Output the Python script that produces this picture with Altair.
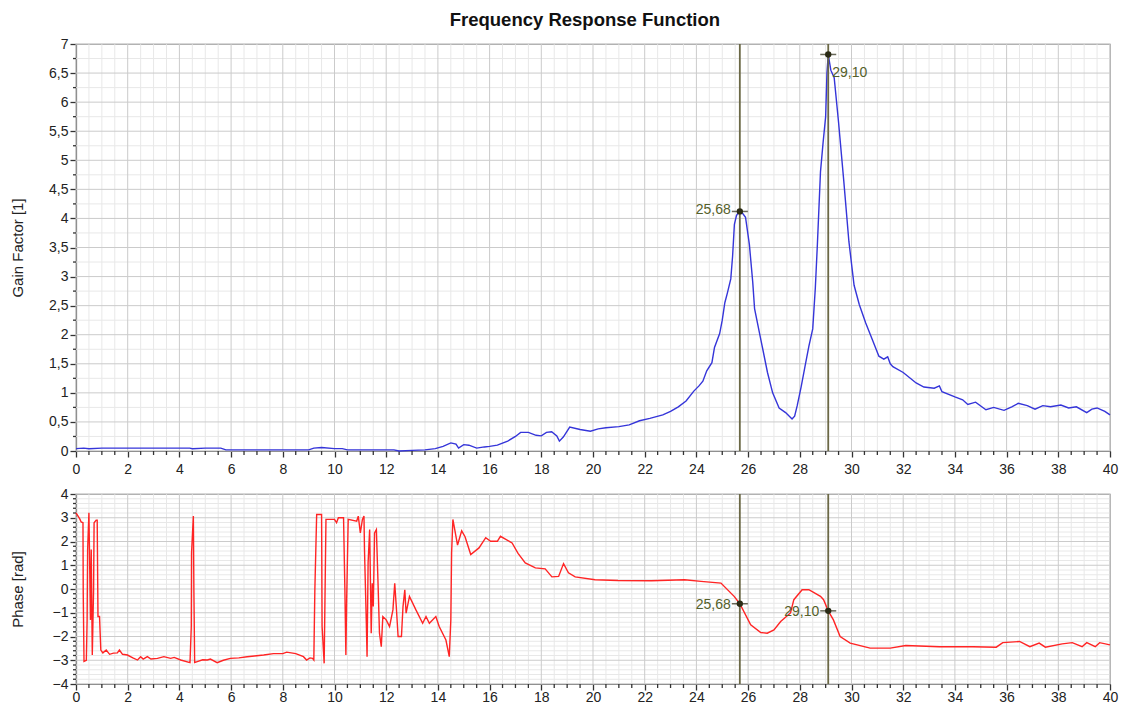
import altair as alt
import pandas as pd

# ---------------- data ----------------
gain_x = [0.0, 0.3, 0.5, 1.0, 2.0, 3.0, 4.0, 4.4, 4.5, 5.0, 5.6, 5.8, 7.0, 8.0, 9.0, 9.2, 9.5, 10.0, 10.3,
          10.5, 11.5, 12.3, 12.5, 13.0, 13.5, 13.9, 14.2, 14.5, 14.7, 14.8, 15.0, 15.2, 15.5, 15.8, 16.0,
          16.3, 16.7, 17.0, 17.2, 17.5, 17.8, 18.0, 18.2, 18.4, 18.6, 18.7, 18.85, 19.1, 19.5, 19.9, 20.2,
          20.5, 21.0, 21.4, 21.8, 22.2, 22.7, 23.0, 23.3, 23.6, 23.9, 24.1, 24.25, 24.4, 24.6, 24.7, 24.9,
          25.0, 25.1, 25.2, 25.33, 25.4, 25.47, 25.55, 25.62, 25.68, 25.8, 25.9, 26.05, 26.18, 26.25, 26.5,
          26.75, 26.95, 27.2, 27.45, 27.7, 27.8, 27.9, 28.05, 28.2, 28.35, 28.5, 28.6, 28.68, 28.8, 28.9,
          29.0, 29.05, 29.1, 29.2, 29.33, 29.5, 29.7, 29.9, 30.1, 30.3, 30.55, 30.8, 31.06, 31.25, 31.4,
          31.5, 31.6, 32.0, 32.5, 32.8, 33.2, 33.4, 33.5, 34.0, 34.3, 34.5, 34.8, 35.2, 35.5, 35.9, 36.2,
          36.45, 36.8, 37.1, 37.4, 37.7, 38.1, 38.4, 38.7, 39.1, 39.3, 39.5, 39.8, 40.0]
gain_y = [0.04, 0.05, 0.04, 0.05, 0.05, 0.05, 0.05, 0.05, 0.04, 0.05, 0.05, 0.02, 0.02, 0.02, 0.02, 0.05,
          0.06, 0.04, 0.04, 0.02, 0.02, 0.02, 0.0, 0.01, 0.02, 0.04, 0.08, 0.14, 0.12, 0.05, 0.11, 0.1, 0.05,
          0.07, 0.08, 0.1, 0.17, 0.25, 0.32, 0.32, 0.27, 0.26, 0.32, 0.33, 0.26, 0.17, 0.24, 0.41, 0.37, 0.34,
          0.38, 0.4, 0.42, 0.45, 0.52, 0.56, 0.62, 0.68, 0.76, 0.86, 1.03, 1.12, 1.2, 1.38, 1.52, 1.78, 2.02,
          2.25, 2.55, 2.72, 2.96, 3.35, 3.9, 4.05, 4.1, 4.12, 4.08, 4.02, 3.55, 2.9, 2.45, 1.9, 1.35, 1.0,
          0.74, 0.66, 0.55, 0.6, 0.78, 1.1, 1.45, 1.8, 2.1, 2.8, 3.55, 4.8, 5.3, 5.75, 6.5, 6.82, 6.55, 6.42,
          5.65, 4.65, 3.6, 2.85, 2.52, 2.2, 1.92, 1.63, 1.58, 1.62, 1.5, 1.45, 1.35, 1.17, 1.1, 1.08, 1.12,
          1.02, 0.93, 0.88, 0.8, 0.84, 0.71, 0.75, 0.7, 0.76, 0.82, 0.78, 0.72, 0.78, 0.76, 0.79, 0.74, 0.76,
          0.66, 0.72, 0.74, 0.68, 0.62]

phase_x = [0.0, 0.14, 0.2, 0.27, 0.28, 0.31, 0.4, 0.43, 0.45, 0.5, 0.56, 0.59, 0.63, 0.68, 0.7, 0.78, 0.82,
           0.85, 0.91, 0.96, 1.04, 1.17, 1.3, 1.45, 1.6, 1.68, 1.8, 1.99, 2.2, 2.38, 2.5, 2.6, 2.76, 2.9,
           3.15, 3.4, 3.66, 3.8, 4.05, 4.41, 4.46, 4.47, 4.54, 4.56, 4.59, 4.69, 4.9, 5.08, 5.2, 5.46, 5.7,
           5.97, 6.3, 6.62, 6.9, 7.26, 7.64, 8.0, 8.15, 8.5, 8.8, 8.92, 9.05, 9.15, 9.2, 9.24, 9.31, 9.5,
           9.52, 9.6, 9.67, 10.0, 10.08, 10.15, 10.35, 10.4, 10.44, 10.47, 10.53, 10.86, 10.92, 11.0, 11.08,
           11.14, 11.16, 11.23, 11.26, 11.3, 11.36, 11.42, 11.46, 11.5, 11.55, 11.62, 11.68, 11.74, 11.81,
           11.87, 12.0, 12.13, 12.26, 12.33, 12.39, 12.46, 12.59, 12.65, 12.72, 12.77, 12.9, 13.15, 13.41,
           13.54, 13.67, 13.92, 14.05, 14.31, 14.44, 14.5, 14.53, 14.58, 14.76, 14.92, 15.05, 15.27, 15.59,
           15.85, 16.04, 16.3, 16.42, 16.87, 17.1, 17.38, 17.77, 18.15, 18.41, 18.67, 18.86, 19.05, 19.31,
           20.08, 20.97, 22.26, 23.54, 24.18, 24.95, 25.46, 25.68, 26.1, 26.49, 26.74, 27.0, 27.26, 27.64,
           27.77, 28.09, 28.35, 28.8, 28.92, 29.1, 29.3, 29.56, 29.95, 30.72, 31.5, 32.1, 33.4, 34.7, 35.6,
           35.85, 36.5, 36.9, 37.26, 37.5, 38.15, 38.54, 38.92, 39.1, 39.43, 39.6, 40.0]
phase_y = [3.21, 2.96, 2.82, 2.79, -0.17, -3.05, -3.0, -1.3, 1.66, 3.21, -1.3, 1.66, -2.78, -0.03, 2.79, 2.9,
           2.9, -1.16, -1.16, -2.57, -2.69, -2.57, -2.75, -2.7, -2.69, -2.57, -2.75, -2.78, -2.9, -2.99,
           -2.85, -2.95, -2.85, -2.95, -2.92, -2.85, -2.92, -2.88, -2.99, -3.1, -1.58, 1.52, 3.07, -0.03,
           -3.1, -3.06, -2.98, -2.99, -2.95, -3.1, -3.0, -2.92, -2.9, -2.85, -2.82, -2.78, -2.72, -2.72,
           -2.66, -2.72, -2.85, -2.99, -2.9, -2.92, -2.99, -0.03, 3.14, 3.14, -1.58, -3.13, 2.93, 2.93, 2.79,
           3.0, 3.0, 0.1, -2.78, -0.5, 2.93, 2.86, 3.07, 2.36, 2.93, 3.07, 1.66, -1.37, -2.85, 1.1, 2.5,
           -1.86, 0.24, -0.74, 2.36, 2.5, 0.39, -1.86, -2.43, -1.16, -1.3, -1.58, -0.88, 0.24, -0.74, -2.0,
           -2.0, -0.74, -0.03, -1.02, -0.31, -0.88, -1.44, -1.16, -1.44, -1.16, -1.58, -2.15, -2.85, -1.3,
           1.52, 2.93, 1.85, 2.45, 2.2, 1.45, 1.73, 2.16, 2.01, 2.01, 2.22, 1.94, 1.5, 1.1, 0.89, 0.85, 0.51,
           0.53, 1.07, 0.68, 0.51, 0.39, 0.36, 0.35, 0.39, 0.32, 0.25, -0.31, -0.62, -1.51, -1.83, -1.86,
           -1.72, -1.37, -1.01, -0.45, -0.03, -0.03, -0.31, -0.45, -0.92, -1.3, -2.0, -2.28, -2.49, -2.49,
           -2.38, -2.43, -2.43, -2.45, -2.26, -2.21, -2.43, -2.28, -2.45, -2.31, -2.26, -2.43, -2.26, -2.43,
           -2.26, -2.35]

cursor_x = [25.68, 29.10]
cursor_gain = [4.12, 6.82]
cursor_phase = [-0.62, -0.92]
cursor_text = ["25,68", "29,10"]

# tick / grid positions
x_major = [float(v) for v in range(0, 41, 2)]
x_minor = [v / 2 for v in range(0, 81) if v % 4 != 0]
gain_major = [v / 2 for v in range(0, 15)]
gain_minor = [v / 4 for v in range(0, 29) if v % 2 == 1]
phase_major = [float(v) for v in range(-4, 5)]
phase_minor = [round(v / 5, 1) for v in range(-20, 21) if v % 5 != 0]

FONT = "Liberation Sans"
CUR_COLOR = "#6b6846"
LBL_COLOR = "#55602a"
MARK_COLOR = "#2a2a14"
MAJOR_GRID = "#cbcbcb"
MINOR_GRID = "#e8e8e8"
TICK_COLOR = "#333333"
PLOT_W = 1034

x_scale = alt.Scale(domain=[0, 40], nice=False, zero=False)


def ylabel_expr():
    return "replace(format(datum.value, '.1~f'), '.', ',')"


def panel(line_df, yfield, ydomain, ymajor, yminor, ytitle, line_color, height, cur_field, right_label,
          xlabel_pad):
    x_axis = alt.Axis(values=x_major, title=None, format="d", grid=False, labelOverlap=False,
                      labelFlush=False, tickSize=6, labelPadding=xlabel_pad, minExtent=20, maxExtent=20)
    X = alt.X("f:Q", scale=x_scale, axis=x_axis)
    y_axis = alt.Axis(values=ymajor, title=ytitle, labelExpr=ylabel_expr(), grid=False,
                      labelOverlap=False, labelFlush=False, tickSize=6,
                      minExtent=40, maxExtent=40, titlePadding=11)
    Y = alt.Y(yfield + ":Q", scale=alt.Scale(domain=ydomain, nice=False, zero=False), axis=y_axis)

    vmaj = alt.Chart(pd.DataFrame({"f": x_major})).mark_rule(color=MAJOR_GRID, strokeWidth=1).encode(x=X)
    vmin = alt.Chart(pd.DataFrame({"f": x_minor})).mark_rule(color=MINOR_GRID, strokeWidth=1).encode(x=X)
    hmaj = alt.Chart(pd.DataFrame({yfield: ymajor})).mark_rule(color=MAJOR_GRID, strokeWidth=1).encode(y=Y)
    hmin = alt.Chart(pd.DataFrame({yfield: yminor})).mark_rule(color=MINOR_GRID, strokeWidth=1).encode(y=Y)
    # minor tick marks on the axes
    ymt = alt.Chart(pd.DataFrame({yfield: yminor})).mark_rule(color=TICK_COLOR, strokeWidth=1.3).encode(
        y=Y, x=alt.value(-3), x2=alt.value(0))
    xmt = alt.Chart(pd.DataFrame({"f": x_minor})).mark_rule(color=TICK_COLOR, strokeWidth=1.3).encode(
        x=X, y=alt.value(height), y2=alt.value(height + 4))

    line = alt.Chart(line_df).mark_line(color=line_color, strokeWidth=1.4).encode(x=X, y=Y)

    cdf = pd.DataFrame({"f": cursor_x, yfield: cur_field, "t": cursor_text})
    cb = alt.Chart(cdf)
    rules = cb.mark_rule(color=CUR_COLOR, strokeWidth=1.8).encode(x=X)
    ticks = cb.mark_tick(color=MARK_COLOR, orient="horizontal", size=16, thickness=1.5).encode(x=X, y=Y)
    pts = cb.mark_point(filled=True, color=MARK_COLOR, size=40, shape="circle", opacity=1).encode(x=X, y=Y)
    layers = [vmin, hmin, vmaj, hmaj, ymt, xmt, line, rules, ticks, pts]
    if right_label:
        layers.append(cb.transform_filter("datum.f < 27").mark_text(
            align="right", dx=-9, dy=-1, font=FONT, fontSize=14, color=LBL_COLOR).encode(x=X, y=Y, text="t:N"))
        layers.append(cb.transform_filter("datum.f > 27").mark_text(
            align="left", dx=4, dy=19, font=FONT, fontSize=14, color=LBL_COLOR).encode(x=X, y=Y, text="t:N"))
    else:
        layers.append(cb.mark_text(align="right", dx=-9, dy=1, font=FONT, fontSize=14,
                                   color=LBL_COLOR).encode(x=X, y=Y, text="t:N"))
    return alt.layer(*layers).properties(width=PLOT_W, height=height)


gain_df = pd.DataFrame({"f": gain_x, "g": gain_y})
phase_df = pd.DataFrame({"f": phase_x, "p": phase_y})

top = panel(gain_df, "g", [0, 7], gain_major, gain_minor, "Gain Factor [1]", "#3535d9", 407,
            cursor_gain, True, 5)
bottom = panel(phase_df, "p", [-4, 4], phase_major, phase_minor, "Phase [rad]", "#ff2424", 190,
               cursor_phase, False, 0)

chart = alt.vconcat(top, bottom, spacing=9).properties(
    title=alt.TitleParams("Frequency Response Function", font=FONT, fontSize=18.5, fontWeight="bold",
                          color="#111111", anchor="middle", offset=6.5, dx=21),
    padding={"left": 1, "top": 3, "right": 0, "bottom": 0},
).configure_view(stroke="#999999", strokeWidth=1.2).configure_axis(
    labelFont=FONT, labelFontSize=14, labelColor="#222222", labelPadding=2,
    titleFont=FONT, titleFontSize=15, titleFontWeight="normal", titleColor="#222222",
    domainColor="#555555", domainWidth=1.2, tickColor=TICK_COLOR, tickWidth=1.3,
)

chart.save("out.html", embed_options={"renderer": "svg", "actions": False})
